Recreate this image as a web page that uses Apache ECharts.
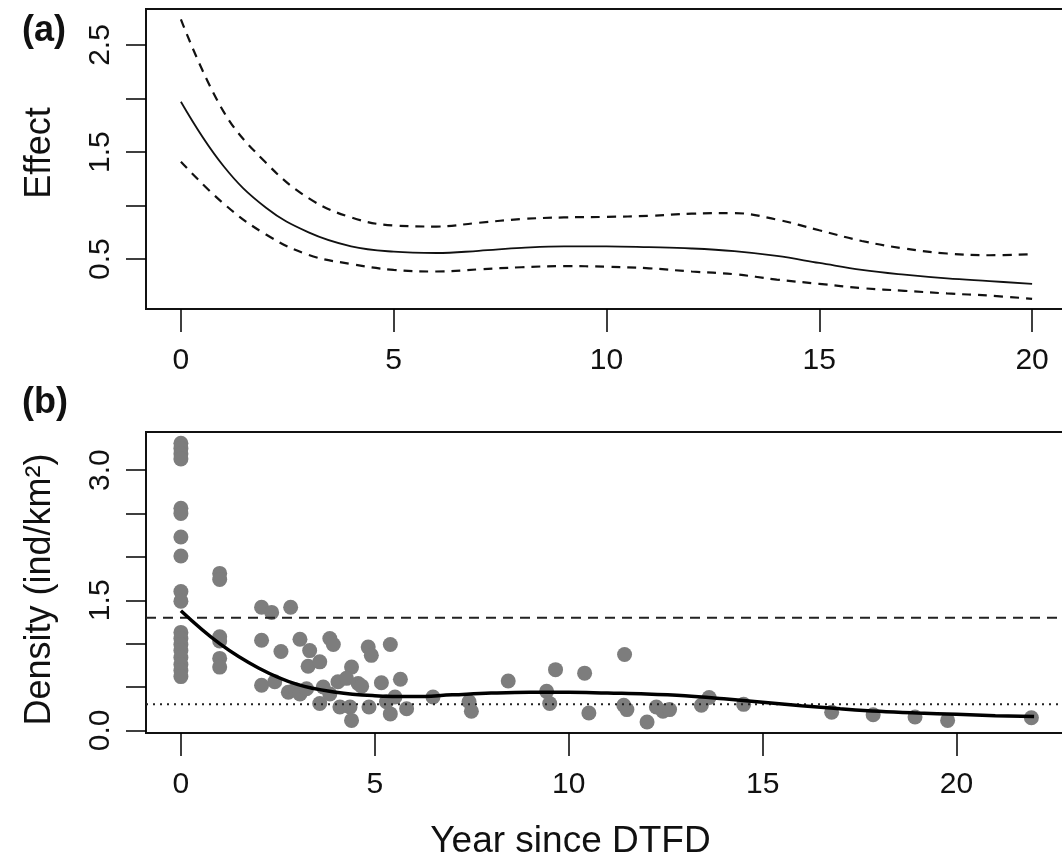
<!DOCTYPE html>
<html>
<head>
<meta charset="utf-8">
<script src="https://cdn.jsdelivr.net/npm/echarts@6/dist/echarts.min.js"></script>
<style>
html,body{margin:0;padding:0;background:#fff;overflow:hidden;width:1062px;height:856px;}
#chart{width:1085px;height:856px;}
</style>
</head>
<body>
<div id="chart"></div>
<script>
// ---- Panel (a): smooth effect with confidence band ----
const effX     = [0, 1, 2, 3, 4, 5, 6, 7, 8, 9, 10, 11, 12, 13, 14, 15, 16, 17, 18, 19, 20];
const effFit   = [1.97, 1.37, 0.98, 0.75, 0.62, 0.57, 0.558, 0.578, 0.605, 0.62, 0.62, 0.612, 0.60, 0.575, 0.53, 0.465, 0.40, 0.355, 0.32, 0.295, 0.27];
const effUpper = [2.74, 1.88, 1.40, 1.07, 0.89, 0.815, 0.805, 0.84, 0.875, 0.89, 0.895, 0.905, 0.925, 0.93, 0.87, 0.77, 0.67, 0.60, 0.553, 0.537, 0.547];
const effLower = [1.41, 1.02, 0.73, 0.54, 0.455, 0.40, 0.385, 0.405, 0.425, 0.435, 0.43, 0.415, 0.385, 0.36, 0.31, 0.27, 0.23, 0.205, 0.18, 0.16, 0.13];

// ---- Panel (b): observed densities ----
const obsYear = [
  0,0,0,0,0,0,0,0,0,0,0,0,0,0,0,0,0,0,
  1,1,1,1,1,1,
  2.08,2.34,2.83,2.08,2.58,3.07,3.32,3.84,3.93,3.28,3.58,4.40,2.08,2.42,2.77,2.95,3.07,3.24,3.67,3.58,3.84,4.05,4.27,4.10,4.36,4.40,4.57,4.83,4.91,5.40,4.66,5.17,5.66,6.5,4.85,5.30,5.52,5.40,5.82,
  7.43,7.49,8.44,9.43,9.51,9.66,10.41,10.52,11.44,11.42,11.5,12.02,12.26,12.43,12.6,13.42,13.62,14.51,16.78,17.85,18.93,19.77,21.93
];
const obsDensity = [
  3.31,3.25,3.19,3.13,2.56,2.50,2.23,2.01,1.60,1.49,1.13,1.06,0.99,0.92,0.84,0.76,0.69,0.62,
  1.81,1.74,1.08,1.03,0.83,0.73,
  1.42,1.36,1.42,1.04,0.91,1.05,0.92,1.06,0.99,0.74,0.79,0.73,0.52,0.56,0.44,0.47,0.42,0.48,0.50,0.31,0.42,0.56,0.60,0.27,0.27,0.115,0.54,0.96,0.865,0.99,0.51,0.55,0.59,0.385,0.27,0.33,0.385,0.19,0.25,
  0.33,0.22,0.57,0.45,0.31,0.70,0.66,0.20,0.875,0.29,0.24,0.096,0.27,0.22,0.24,0.29,0.38,0.30,0.21,0.18,0.155,0.115,0.145
];
const fitYear    = [0, 1, 2, 3, 4, 5, 6, 7, 8, 9, 10, 11, 12, 13, 14, 15, 16, 17, 18, 19, 20, 21, 22];
const fitDensity = [1.38, 1.0, 0.72, 0.53, 0.44, 0.40, 0.39, 0.41, 0.43, 0.44, 0.44, 0.43, 0.42, 0.40, 0.365, 0.325, 0.285, 0.25, 0.22, 0.20, 0.185, 0.17, 0.16];
const refDashed = 1.30;
const refDotted = 0.30;

// ---- Tick values ----
const xTicksA = [0, 5, 10, 15, 20];
const yTicksA = [0.5, 1.0, 1.5, 2.0, 2.5];
const yLabelsA = [0.5, 1.5, 2.5];
const xTicksB = [0, 5, 10, 15, 20];
const yTicksB = [0, 0.5, 1.0, 1.5, 2.0, 2.5, 3.0];
const yLabelsB = [0.0, 1.5, 3.0];

const FONT = '"Liberation Sans", Arial, Helvetica, sans-serif';
const zip = (xs, ys) => xs.map((x, i) => [x, ys[i]]);

const xRangeA = [-0.82, 20.82];
const xRangeB = [-0.9, 22.9];

function xAxisCfg(gridIndex, range, ticks, name) {
  return {
    type: 'value', gridIndex, min: range[0], max: range[1],
    axisLine: { show: false, onZero: false },
    splitLine: { show: false },
    axisTick: { show: true, inside: false, length: 23, customValues: ticks, lineStyle: { color: '#000', width: 1.5 } },
    axisLabel: { show: true, customValues: ticks, margin: 37, color: '#111', fontSize: 30, fontFamily: FONT, formatter: v => String(v) },
    name: name || '', nameLocation: 'middle', nameGap: 90,
    nameTextStyle: { color: '#111', fontSize: 37, fontFamily: FONT, padding: [0, 74, 0, 0] }
  };
}
function yAxisCfg(gridIndex, min, max, ticks, labels, name, digits, pad) {
  return {
    type: 'value', gridIndex, min, max,
    axisLine: { show: false, onZero: false },
    splitLine: { show: false },
    axisTick: { show: true, inside: false, length: 20, customValues: ticks, lineStyle: { color: '#000', width: 1.5 } },
    axisLabel: { show: true, customValues: labels, rotate: 90, margin: 30, color: '#111', fontSize: 30, fontFamily: FONT, formatter: v => v.toFixed(digits) },
    name, nameLocation: 'middle', nameRotate: 90, nameGap: 88,
    nameTextStyle: { color: '#111', fontSize: 36, fontFamily: FONT, padding: pad }
  };
}

const chart = echarts.init(document.getElementById('chart'), null, { renderer: 'canvas' });
chart.setOption({
  animation: false,
  backgroundColor: '#fff',
  grid: [
    { left: 146, top: 9, width: 921, height: 300, show: true, borderColor: '#111', borderWidth: 2, backgroundColor: 'transparent', containLabel: false, outerBoundsMode: 'none' },
    { left: 146, top: 432, width: 923, height: 301, show: true, borderColor: '#111', borderWidth: 2, backgroundColor: 'transparent', containLabel: false, outerBoundsMode: 'none' }
  ],
  xAxis: [
    xAxisCfg(0, xRangeA, xTicksA, ''),
    xAxisCfg(1, xRangeB, xTicksB, 'Year since DTFD')
  ],
  yAxis: [
    yAxisCfg(0, 0.035, 2.836, yTicksA, yLabelsA, 'Effect', 1, [0, 0, 0, 12]),
    yAxisCfg(1, -0.03, 3.44, yTicksB, yLabelsB, 'Density (ind/km²)', 1, [0, 14, 0, 0])
  ],
  graphic: [
    { type: 'text', left: 22, top: 13, style: { text: '(a)', font: 'bold 36px ' + FONT, fill: '#111' } },
    { type: 'text', left: 22, top: 385, style: { text: '(b)', font: 'bold 36px ' + FONT, fill: '#111' } }
  ],
  series: [
    { type: 'line', xAxisIndex: 0, yAxisIndex: 0, data: zip(effX, effUpper), smooth: 0.4, symbol: 'none',
      lineStyle: { color: '#111', width: 2.2, type: [9, 7] }, z: 3 },
    { type: 'line', xAxisIndex: 0, yAxisIndex: 0, data: zip(effX, effFit), smooth: 0.4, symbol: 'none',
      lineStyle: { color: '#111', width: 1.8, type: 'solid' }, z: 3 },
    { type: 'line', xAxisIndex: 0, yAxisIndex: 0, data: zip(effX, effLower), smooth: 0.4, symbol: 'none',
      lineStyle: { color: '#111', width: 2.2, type: [9, 7] }, z: 3 },

    { type: 'scatter', xAxisIndex: 1, yAxisIndex: 1, data: zip(obsYear, obsDensity), symbol: 'circle', symbolSize: 15,
      itemStyle: { color: '#7d7d7d', opacity: 1 }, z: 2 },
    { type: 'line', xAxisIndex: 1, yAxisIndex: 1, data: [[xRangeB[0], refDashed], [xRangeB[1], refDashed]], symbol: 'none',
      lineStyle: { color: '#222', width: 2, type: [10, 7] }, z: 3 },
    { type: 'line', xAxisIndex: 1, yAxisIndex: 1, data: [[xRangeB[0], refDotted], [xRangeB[1], refDotted]], symbol: 'none',
      lineStyle: { color: '#222', width: 2, type: [2, 5] }, z: 3 },
    { type: 'line', xAxisIndex: 1, yAxisIndex: 1, data: zip(fitYear, fitDensity), smooth: 0.4, symbol: 'none',
      lineStyle: { color: '#000', width: 3.5 }, z: 4 }
  ]
});
</script>
</body>
</html>
